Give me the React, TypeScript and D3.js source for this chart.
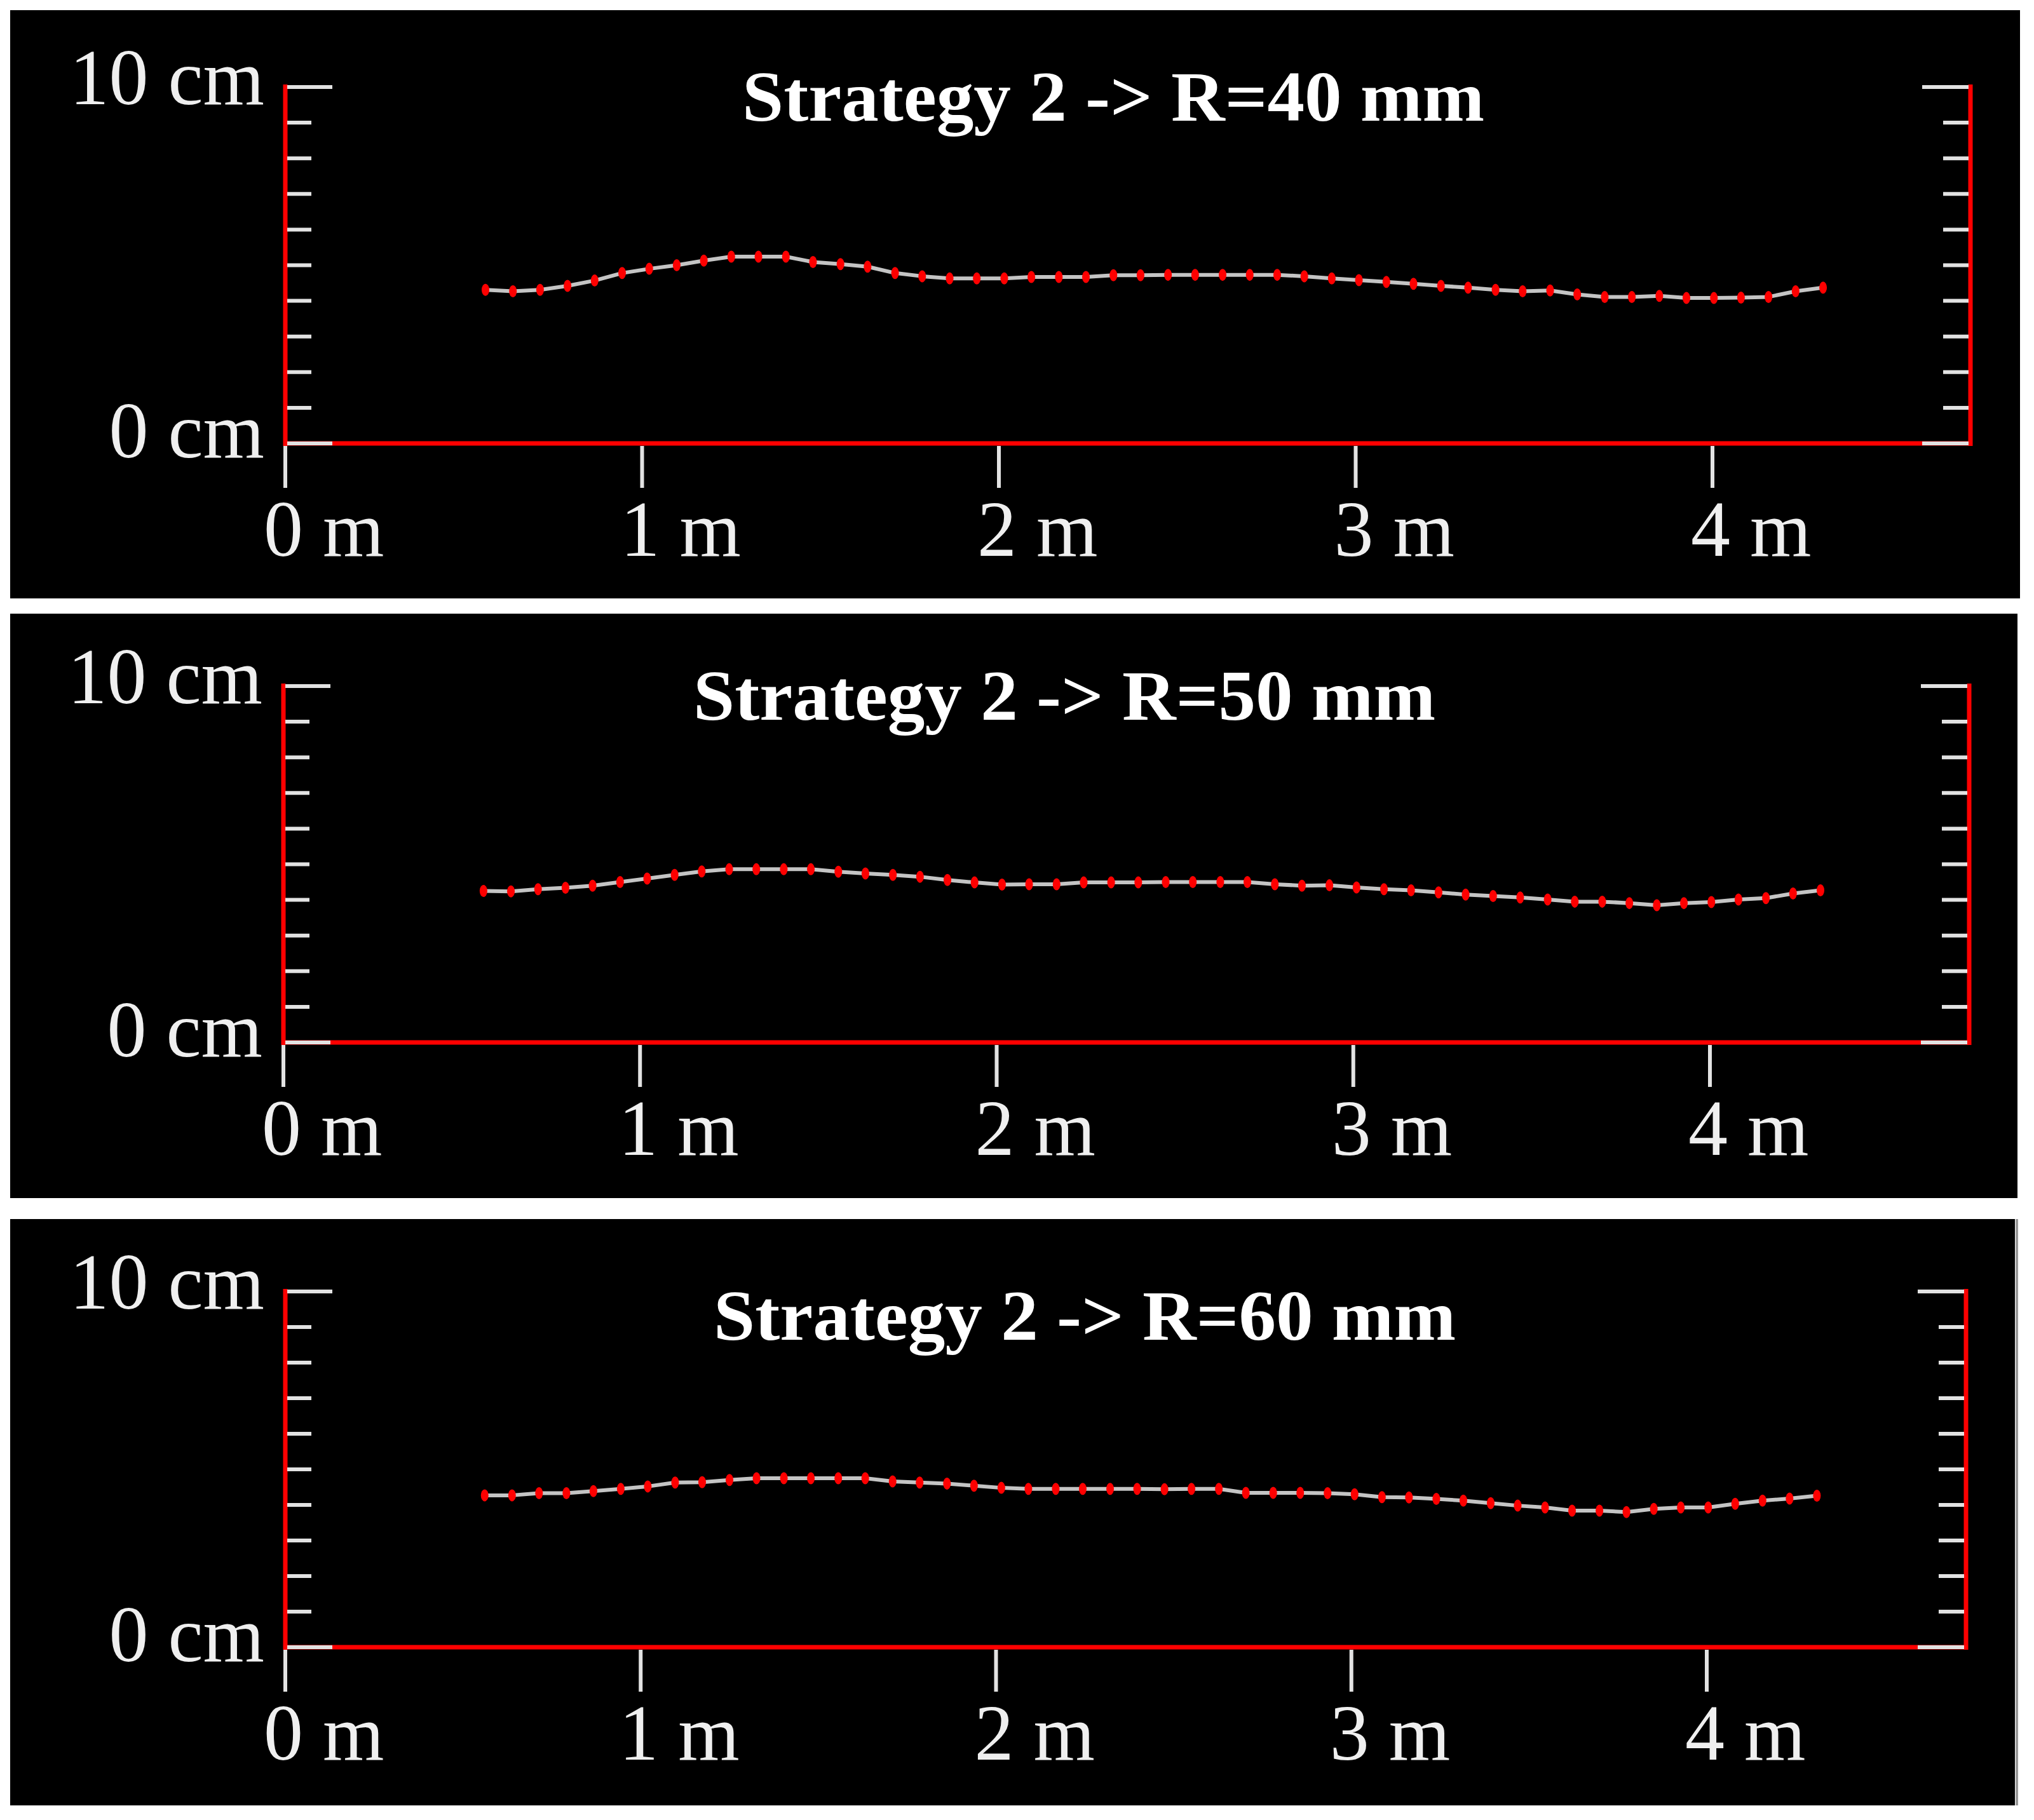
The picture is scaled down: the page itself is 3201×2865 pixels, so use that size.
import React from 'react';
import * as d3 from 'd3';

// ---- data ----
const xPositions = [
  0.561, 0.638, 0.714, 0.791, 0.867, 0.944, 1.02, 1.097, 1.173, 1.25,
  1.326, 1.403, 1.479, 1.556, 1.632, 1.709, 1.785, 1.862, 1.938, 2.015,
  2.091, 2.168, 2.244, 2.321, 2.397, 2.474, 2.55, 2.627, 2.703, 2.78,
  2.856, 2.933, 3.009, 3.086, 3.162, 3.239, 3.315, 3.392, 3.468, 3.545,
  3.621, 3.698, 3.774, 3.851, 3.927, 4.004, 4.08, 4.157, 4.233, 4.31,
];

const heightR40 = [
  4.31, 4.27, 4.31, 4.42, 4.57, 4.78, 4.9, 5.0, 5.13, 5.24,
  5.24, 5.24, 5.09, 5.03, 4.96, 4.78, 4.69, 4.63, 4.63, 4.63,
  4.67, 4.67, 4.67, 4.72, 4.72, 4.73, 4.73, 4.73, 4.73, 4.73,
  4.69, 4.63, 4.58, 4.53, 4.48, 4.42, 4.37, 4.31, 4.27, 4.29,
  4.18, 4.11, 4.11, 4.14, 4.08, 4.08, 4.09, 4.11, 4.27, 4.37,
];

const heightR50 = [
  4.25, 4.24, 4.3, 4.34, 4.4, 4.5, 4.6, 4.7, 4.8, 4.86,
  4.86, 4.86, 4.86, 4.79, 4.74, 4.7, 4.65, 4.56, 4.49, 4.43,
  4.44, 4.44, 4.49, 4.49, 4.49, 4.5, 4.5, 4.5, 4.5, 4.44,
  4.4, 4.41, 4.35, 4.3, 4.27, 4.21, 4.15, 4.11, 4.07, 4.01,
  3.95, 3.95, 3.91, 3.85, 3.91, 3.94, 4.01, 4.05, 4.18, 4.27,
];

const heightR60 = [
  4.27, 4.27, 4.33, 4.33, 4.39, 4.45, 4.52, 4.63, 4.64, 4.7,
  4.75, 4.75, 4.75, 4.75, 4.75, 4.66, 4.63, 4.6, 4.54, 4.48,
  4.45, 4.45, 4.45, 4.45, 4.45, 4.44, 4.45, 4.45, 4.34, 4.34,
  4.34, 4.33, 4.3, 4.22, 4.21, 4.17, 4.12, 4.05, 3.98, 3.93,
  3.84, 3.84, 3.8, 3.89, 3.93, 3.93, 4.03, 4.12, 4.18, 4.26,
];

const panelTitles = ['Strategy 2 -> R=40 mm', 'Strategy 2 -> R=50 mm', 'Strategy 2 -> R=60 mm'];
const panelSeries = [heightR40, heightR50, heightR60];

const xTicks = [0, 1, 2, 3, 4];
const xTickLabels = ['0 m', '1 m', '2 m', '3 m', '4 m'];
const yTicks = [0, 1, 2, 3, 4, 5, 6, 7, 8, 9, 10];
const yLabelTicks = [0, 10];
const yTickLabels = ['0 cm', '10 cm'];

// ---- layout (pixels) ----
const W = 3201;
const H = 2865;
const layouts = [
  { bx: 16, by: 16, bw: 3163, bh: 926, left: 449, x4: 2695, right: 3101, y0: 698, y10: 137, tx: 1752, ty: 190 },
  { bx: 16, by: 966, bw: 3159, bh: 920, left: 446, x4: 2691, right: 3099, y0: 1641, y10: 1080, tx: 1675, ty: 1133 },
  { bx: 16, by: 1919, bw: 3155, bh: 923, left: 449, x4: 2686, right: 3094, y0: 2593, y10: 2033, tx: 1707, ty: 2109 },
];

const RED = '#ff0000';
const TICK = '#e2e2e2';
const TEXT = '#efefef';
const FONT = '"Liberation Serif", "DejaVu Serif", serif';

function Panel({ idx }: { idx: number }) {
  const L = layouts[idx];
  const data = panelSeries[idx];
  const x = d3.scaleLinear().domain([0, 4]).range([L.left, L.x4]);
  const y = d3.scaleLinear().domain([0, 10]).range([L.y0, L.y10]);
  const pts = xPositions.map((xv, i) => [xv, data[i]] as [number, number]);
  const line = d3
    .line<[number, number]>()
    .x((d) => x(d[0]))
    .y((d) => y(d[1]))
    .curve(d3.curveLinear);

  return (
    <g>
      <rect x={L.bx} y={L.by} width={L.bw} height={L.bh} fill="#000" />
      {/* red frame */}
      <line x1={L.left} x2={L.left} y1={y(10) - 4} y2={y(0) + 4} stroke={RED} strokeWidth={7} />
      <line x1={L.left - 3} x2={L.right + 3} y1={y(0)} y2={y(0)} stroke={RED} strokeWidth={7} />
      <line x1={L.right} x2={L.right} y1={y(10) - 4} y2={y(0) + 4} stroke={RED} strokeWidth={7} />
      {/* y ticks left + right */}
      {yTicks.map((t) => {
        const major = t === 0 || t === 10;
        const len = major ? 74 : 41;
        return (
          <g key={t}>
            <line x1={L.left + 3} x2={L.left + len} y1={y(t)} y2={y(t)} stroke={TICK} strokeWidth={6} />
            <line x1={L.right - 3} x2={L.right - len - 2} y1={y(t)} y2={y(t)} stroke={TICK} strokeWidth={6} />
          </g>
        );
      })}
      {/* x ticks */}
      {xTicks.map((t) => (
        <line key={t} x1={x(t)} x2={x(t)} y1={y(0) + 4} y2={y(0) + 70} stroke={TICK} strokeWidth={6} />
      ))}
      {/* x labels */}
      {xTicks.map((t, i) => (
        <text key={t} x={x(t) - 34} y={y(0) + 177} fontFamily={FONT} fontSize={124} fill={TEXT}>
          {xTickLabels[i]}
        </text>
      ))}
      {/* y labels */}
      {yLabelTicks.map((t, i) => (
        <text key={t} x={L.left - 33} y={y(t) + (t === 10 ? 27 : 22)} fontFamily={FONT} fontSize={124} fill={TEXT} textAnchor="end">
          {yTickLabels[i]}
        </text>
      ))}
      {/* title */}
      <text
        x={L.tx}
        y={L.ty}
        fontFamily={FONT}
        fontWeight="bold"
        fontSize={113}
        fill="#ffffff"
        textAnchor="middle"
        textLength={1168}
        lengthAdjust="spacingAndGlyphs"
      >
        {panelTitles[idx]}
      </text>
      {/* profile line */}
      <path d={line(pts) || ''} fill="none" stroke="#c4c4c4" strokeWidth={6} strokeLinejoin="round" />
      {pts.map((d, i) => (
        <ellipse key={i} cx={x(d[0])} cy={y(d[1])} rx={6} ry={9.5} fill={RED} />
      ))}
    </g>
  );
}

export default function App() {
  return (
    <svg
      width={W}
      height={H}
      viewBox={`0 0 ${W} ${H}`}
      style={{ position: 'absolute', left: 0, top: 0, display: 'block' }}
    >
      <rect x={0} y={0} width={W} height={H} fill="#ffffff" />
      {layouts.map((_, i) => (
        <Panel key={i} idx={i} />
      ))}
      <line x1={3174} x2={3174} y1={1919} y2={2842} stroke="#9a9a9a" strokeWidth={4} />
    </svg>
  );
}
